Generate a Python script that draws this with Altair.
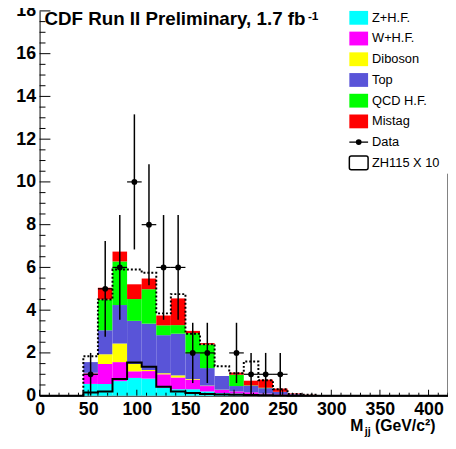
import altair as alt
import numpy as np
import pandas as pd

# ---------------- data ----------------
bin_lo = [45, 60, 75, 90, 105, 120, 135, 150, 165, 180, 195, 210, 225, 240, 255, 270]
bin_width = 15

z_hf    = [0.55, 0.55, 0.68, 0.83, 0.80, 0.37, 0.30, 0.30, 0.20, 0.12, 0.10, 0.08, 0.05, 0.03, 0.01, 0.00]
w_hf    = [0.50, 0.93, 0.89, 0.31, 0.35, 0.63, 0.55, 0.45, 0.25, 0.15, 0.10, 0.08, 0.05, 0.03, 0.01, 0.00]
diboson = [0.02, 0.46, 0.87, 0.34, 0.05, 0.05, 0.10, 0.03, 0.02, 0.01, 0.00, 0.00, 0.00, 0.00, 0.00, 0.00]
top     = [0.50, 1.12, 1.80, 2.02, 2.17, 1.78, 1.95, 1.20, 0.82, 0.64, 0.25, 0.30, 0.25, 0.12, 0.05, 0.03]
qcd_hf  = [0.00, 1.44, 2.04, 1.02, 1.61, 0.46, 0.40, 0.95, 1.10, 0.00, 0.53, 0.02, 0.02, 0.00, 0.00, 0.00]
mistag  = [0.00, 0.55, 0.46, 0.69, 0.50, 0.46, 1.25, 0.10, 0.07, 0.00, 0.10, 0.22, 0.38, 0.15, 0.03, 0.01]

dotted_total = [1.84, 4.50, 5.90, 5.90, 5.75, 3.85, 4.75, 2.90, 2.40, 1.38, 1.05, 1.60, 0.72, 0.30, 0.08, 0.04]
zh115_x10    = [0.15, 0.20, 0.78, 1.55, 1.35, 0.42, 0.20, 0.12, 0.08, 0.05, 0.04, 0.03, 0.02, 0.01, 0.00, 0.00]

data_counts = [1, 5, 6, 10, 8, 6, 6, 2, 2, 0, 2, 1, 1, 1, 0, 0]
data_err    = [1.00, 2.24, 2.45, 3.16, 2.83, 2.45, 2.45, 1.41, 1.41, 0.00, 1.41, 1.00, 1.00, 1.00, 0.00, 0.00]

components = ["Z+H.F.", "W+H.F.", "Diboson", "Top", "QCD H.F.", "Mistag"]
comp_colors = ["#00ffff", "#ff00ff", "#ffff00", "#5954d8", "#00ff00", "#ff0000"]
comp_values = [z_hf, w_hf, diboson, top, qcd_hf, mistag]

x_tick_labels = [0, 50, 100, 150, 200, 250, 300, 350, 400]
y_tick_labels = [0, 2, 4, 6, 8, 10, 12, 14, 16, 18]

# ---------------- layout ----------------
W, H = 414, 390
FONT = "Liberation Sans"
XMAX, YMAX = 420, 18

xs = alt.Scale(domain=[0, XMAX], nice=False, zero=False)
ys = alt.Scale(domain=[0, YMAX], nice=False, zero=False)
xaxis = alt.Axis(values=x_tick_labels, ticks=False, tickSize=0, grid=False, domainColor="black",
                 domainWidth=1, labelFont=FONT, labelFontSize=18, labelFontWeight="bold",
                 labelColor="black", labelPadding=5, labelFlush=False, labelOverlap=False, title=None)
yaxis = alt.Axis(values=y_tick_labels, ticks=False, tickSize=0, grid=False, domainColor="black",
                 domainWidth=1, labelFont=FONT, labelFontSize=18, labelFontWeight="bold",
                 labelColor="black", labelPadding=4, labelOverlap=False, title=None)

# ---------------- stacked histogram ----------------
rows = []
for i, lo in enumerate(bin_lo):
    cum = 0.0
    for name, vals in zip(components, comp_values):
        v = vals[i]
        if v > 0:
            rows.append({"lo": lo, "hi": lo + bin_width, "y0": cum, "y1": cum + v, "comp": name})
        cum += v
stack_df = pd.DataFrame(rows)

stack = alt.Chart(stack_df).mark_rect().encode(
    x=alt.X("lo:Q", scale=xs, axis=xaxis),
    x2="hi:Q",
    y=alt.Y("y0:Q", scale=ys, axis=yaxis),
    y2="y1:Q",
    color=alt.Color("comp:N", scale=alt.Scale(domain=components, range=comp_colors), legend=None),
)

# ---------------- step lines ----------------
last_hi = bin_lo[-1] + bin_width
dot_df = pd.DataFrame({"x": [bin_lo[0]] + bin_lo + [last_hi],
                       "y": [0.0] + dotted_total + [0.0]})
sig_df = pd.DataFrame({"x": [0] + bin_lo + [last_hi, XMAX],
                       "y": [0.0] + zh115_x10 + [0.0, 0.0]})

dotted = alt.Chart(dot_df).mark_line(interpolate="step-after", color="black", strokeWidth=2,
                                     strokeDash=[2, 2]).encode(
    x=alt.X("x:Q", scale=xs, axis=xaxis), y=alt.Y("y:Q", scale=ys, axis=yaxis))
signal = alt.Chart(sig_df).mark_line(interpolate="step-after", color="black", strokeWidth=2).encode(
    x=alt.X("x:Q", scale=xs, axis=xaxis), y=alt.Y("y:Q", scale=ys, axis=yaxis))

# ---------------- data points ----------------
pts = pd.DataFrame({"lo": bin_lo, "n": data_counts, "e": data_err})
pts = pts[pts["n"] > 0].copy()
pts["hi"] = pts["lo"] + bin_width
pts["xc"] = pts["lo"] + bin_width / 2
pts["ylo"] = (pts["n"] - pts["e"]).clip(lower=0)
pts["yhi"] = pts["n"] + pts["e"]

verr = alt.Chart(pts).mark_rule(color="black", strokeWidth=1.5).encode(
    x=alt.X("xc:Q", scale=xs, axis=xaxis), y=alt.Y("ylo:Q", scale=ys, axis=yaxis), y2="yhi:Q")
herr = alt.Chart(pts).mark_rule(color="black", strokeWidth=1.2).encode(
    x=alt.X("lo:Q", scale=xs, axis=xaxis), x2="hi:Q", y=alt.Y("n:Q", scale=ys, axis=yaxis))
dots = alt.Chart(pts).mark_circle(color="black", opacity=1, size=34).encode(
    x=alt.X("xc:Q", scale=xs, axis=xaxis), y=alt.Y("n:Q", scale=ys, axis=yaxis))

# ---------------- inward ticks ----------------
xmaj = pd.DataFrame({"v": x_tick_labels})
xmin = pd.DataFrame({"v": [v for v in range(0, XMAX + 1, 10) if v % 50 != 0]})
ymaj = pd.DataFrame({"v": y_tick_labels})
ymin = pd.DataFrame({"v": [v / 2 for v in range(0, 2 * YMAX + 1) if v % 4 != 0]})

xt1 = alt.Chart(xmaj).mark_rule(color="black").encode(
    x=alt.X("v:Q", scale=xs, axis=xaxis), y=alt.value(H), y2=alt.value(H - 6))
xt2 = alt.Chart(xmin).mark_rule(color="black").encode(
    x=alt.X("v:Q", scale=xs, axis=xaxis), y=alt.value(H), y2=alt.value(H - 3))
yt1 = alt.Chart(ymaj).mark_rule(color="black").encode(
    y=alt.Y("v:Q", scale=ys, axis=yaxis), x=alt.value(0), x2=alt.value(11))
yt2 = alt.Chart(ymin).mark_rule(color="black").encode(
    y=alt.Y("v:Q", scale=ys, axis=yaxis), x=alt.value(0), x2=alt.value(6))

# right frame line (hidden behind legend at the top)
rframe = alt.Chart(pd.DataFrame({"v": [XMAX]})).mark_rule(color="black").encode(
    x=alt.X("v:Q", scale=xs, axis=xaxis), y=alt.value(H), y2=alt.value(165))

# ---------------- legend ----------------
LX, LTXT, ROW0, DROW, SW, SH = 314, 337, 7, 21, 19, 14
leg_df = pd.DataFrame({"label": components, "color": comp_colors})
leg_df["cy"] = [ROW0 + DROW * i for i in range(len(components))]
leg_df["y0"] = leg_df["cy"] - SH / 2
leg_df["y1"] = leg_df["cy"] + SH / 2
leg_df["x0"] = LX
leg_df["x1"] = LX + SW
leg_df["tx"] = LTXT

swatch = alt.Chart(leg_df).mark_rect().encode(
    x=alt.X("x0:Q", scale=None), x2="x1:Q", y=alt.Y("y0:Q", scale=None), y2="y1:Q",
    color=alt.Color("color:N", scale=None))
other = pd.DataFrame({"label": ["Data", "ZH115 X 10"],
                      "cy": [ROW0 + DROW * 6, ROW0 + DROW * 7]})
other["tx"] = LTXT
leg_all = pd.concat([leg_df[["label", "cy", "tx"]], other], ignore_index=True)
leg_text = alt.Chart(leg_all).mark_text(align="left", baseline="middle", font=FONT, fontSize=13,
                                        color="black").encode(
    x=alt.X("tx:Q", scale=None), y=alt.Y("cy:Q", scale=None), text="label:N")

d_row = pd.DataFrame({"x0": [LX], "x1": [LX + SW], "xc": [LX + SW / 2], "cy": [ROW0 + DROW * 6]})
leg_dline = alt.Chart(d_row).mark_rule(color="black", strokeWidth=1.3).encode(
    x=alt.X("x0:Q", scale=None), x2="x1:Q", y=alt.Y("cy:Q", scale=None))
leg_ddot = alt.Chart(d_row).mark_circle(color="black", opacity=1, size=34).encode(
    x=alt.X("xc:Q", scale=None), y=alt.Y("cy:Q", scale=None))
z_row = pd.DataFrame({"x0": [LX], "x1": [LX + SW],
                      "y0": [ROW0 + DROW * 7 - SH / 2], "y1": [ROW0 + DROW * 7 + SH / 2]})
leg_zbox = alt.Chart(z_row).mark_rect(fill="white", stroke="black", strokeWidth=1.5,
                                      cornerRadius=2).encode(
    x=alt.X("x0:Q", scale=None), x2="x1:Q", y=alt.Y("y0:Q", scale=None), y2="y1:Q")

# ---------------- texts ----------------
def txt(s, x, y, size, weight="bold", align="left", baseline="alphabetic"):
    return alt.Chart(pd.DataFrame({"t": [s]})).mark_text(
        align=align, baseline=baseline, font=FONT, fontSize=size, fontWeight=weight,
        color="black").encode(text="t:N", x=alt.value(x), y=alt.value(y))

title1 = txt("CDF Run II Preliminary, 1.7 fb", 5, 14, 19)
title2 = txt("-1", 272, 9, 12)
ax_m = txt("M", 315, 426, 16)
ax_jj = txt("jj", 329.5, 430, 11)
ax_gev = txt("(GeV/c\u00b2)", 340, 426, 16)

chart = alt.layer(
    stack, dotted, signal, verr, herr, dots,
    xt1, xt2, yt1, yt2, rframe,
    swatch, leg_dline, leg_ddot, leg_zbox, leg_text,
    title1, title2, ax_m, ax_jj, ax_gev,
).properties(
    width=W, height=H,
    padding={"left": 32, "top": 0, "right": 0, "bottom": 43},
    autosize=alt.AutoSizeParams(type="none"),
    background="white",
).configure_view(stroke=None)

chart.save("out.html", embed_options={"renderer": "svg", "actions": False})
